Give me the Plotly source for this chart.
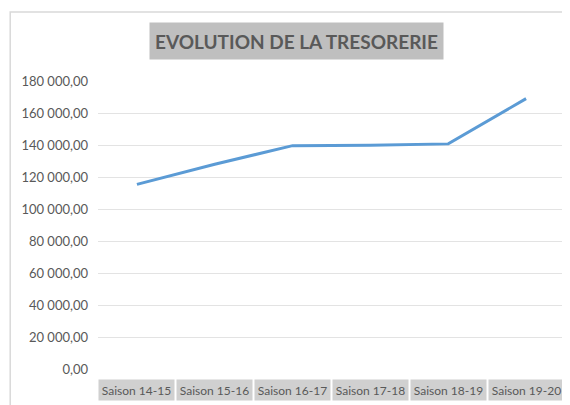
import plotly.graph_objects as go

saisons = ['Saison 14-15', 'Saison 15-16', 'Saison 16-17',
           'Saison 17-18', 'Saison 18-19', 'Saison 19-20']
tresorerie = [115400, 128000, 139600, 139800, 140700, 169000]
y_ticks = [0, 20000, 40000, 60000, 80000, 100000, 120000, 140000, 160000, 180000]

FONT = "Lato, Roboto, sans-serif"
GREY_TXT = '#595959'

fig = go.Figure()

fig.add_trace(
    go.Scatter(x=saisons, y=tresorerie, mode='lines',
               line=dict(color='#5B9BD5', width=3), showlegend=False)
)

# chart frame (cropped on the right and bottom like the reference)
fig.add_shape(type='rect', xref='paper', yref='paper',
              x0=-0.188, x1=1.2, y0=-0.3, y1=1.24,
              line=dict(color='#D9D9D9', width=1.5), layer='below')

# title with grey background
fig.add_annotation(text='<b>EVOLUTION DE LA TRESORERIE</b>',
                   xref='paper', yref='paper', x=0.425, y=1.139,
                   xanchor='center', yanchor='middle',
                   showarrow=False, bgcolor='#BFBFBF', width=289, height=32,
                   borderpad=2, font=dict(family=FONT, size=19, color=GREY_TXT))

# category labels with grey background
for s in saisons:
    fig.add_annotation(text=s, x=s, xref='x', yref='paper', y=-0.073,
                       xanchor='center', yanchor='middle',
                       showarrow=False, bgcolor='#D0D0D0', width=73, height=18,
                       borderpad=1, font=dict(family=FONT, size=12, color=GREY_TXT))

fig.update_xaxes(range=[-0.5, 5.5], showticklabels=False, showgrid=False,
                 showline=False, zeroline=False, fixedrange=True)
fig.update_yaxes(range=[0, 180000], tickvals=y_ticks, tickformat=',.2f',
                 showgrid=True, gridcolor='#E3E3E3', gridwidth=1,
                 zeroline=False, showline=False, ticks='', ticklen=0,
                 ticklabelstandoff=9,
                 tickfont=dict(family=FONT, size=13, color=GREY_TXT))

# the page body adds 8px around the graph, so the figure is 8px smaller
fig.update_layout(
    width=562, height=397,
    margin=dict(l=90, r=5, t=73, b=36),
    separators=', ',
    plot_bgcolor='white', paper_bgcolor='white',
    font=dict(family=FONT, color=GREY_TXT),
)

fig.write_html("out.html")
